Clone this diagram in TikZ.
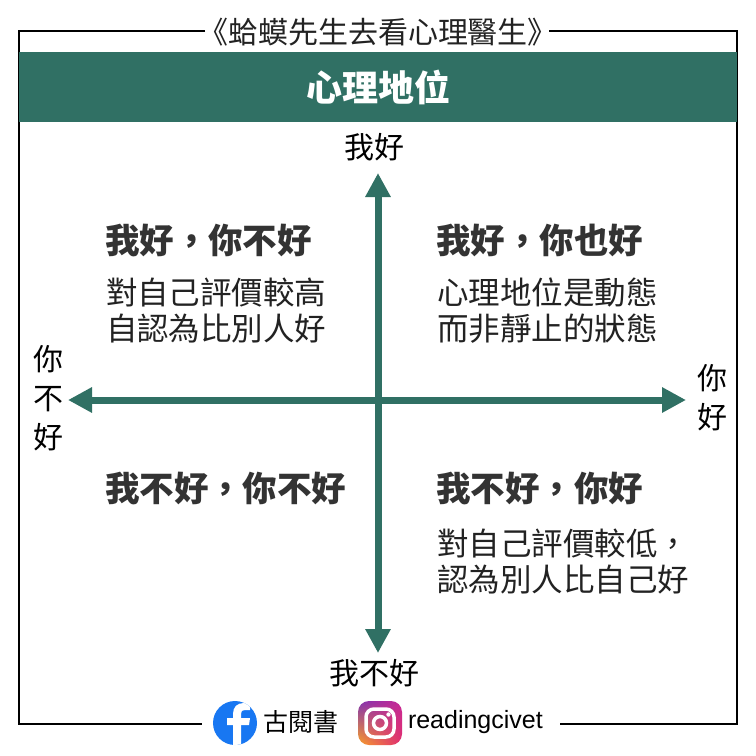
\documentclass[tikz,border=0pt]{standalone}
\usepackage{fontspec}
\setmainfont{Liberation Sans}
\newfontfamily\cjk{Noto Sans CJK TC}
\usetikzlibrary{arrows.meta,shadings}
\definecolor{band}{RGB}{48,112,100}
\definecolor{headgray}{RGB}{51,51,51}
\definecolor{bodygray}{RGB}{34,34,34}
\definecolor{fbblue}{RGB}{24,119,242}
\definecolor{igpurple}{RGB}{129,52,175}
\definecolor{igmag}{RGB}{200,40,150}
\definecolor{igorange}{RGB}{250,160,40}
\definecolor{igpink}{RGB}{225,45,110}
\begin{document}
\begin{tikzpicture}[x=1pt,y=-1pt,
  every node/.style={inner sep=0pt,outer sep=0pt},
  headtxt/.style={font=\cjk\bfseries\fontsize{34.5}{40}\selectfont,text=headgray,anchor=west},
  bodytxt/.style={font=\cjk\fontsize{31.5}{37}\selectfont,text=bodygray,anchor=west},
  axislbl/.style={font=\cjk\fontsize{30}{39}\selectfont,text=black,align=center},
  frameline/.style={line width=1.5pt,black},
  axisarrow/.style={line width=7pt,band,{Triangle[width=24pt,length=24pt]}-{Triangle[width=24pt,length=24pt]}}
]
\useasboundingbox (0,0) rectangle (756,756);
\fill[white] (0,0) rectangle (756,756);
% title and frame
\node[font=\cjk\fontsize{30}{34}\selectfont,text=bodygray] (title) at (378,32) {《蛤蟆先生去看心理醫生》};
\draw[frameline] (205,31) -- (19,31) -- (19,724) -- (202,724);
\draw[frameline] (549,31) -- (737,31) -- (737,724) -- (560,724);
% band
\fill[band] (19,52) rectangle (737,122);
\node[font=\cjk\bfseries\fontsize{36}{40}\selectfont,text=white] (bandtitle) at (378,87) {心理地位};
% axes
\coordinate (L) at (68,400);
\coordinate (R) at (686,400);
\coordinate (T) at (378,173);
\coordinate (B) at (378,653);
\draw[axisarrow] (L) -- (R);
\draw[axisarrow] (T) -- (B);
% axis labels
\node[axislbl] (top) at (374,147) {我好};
\node[axislbl] (bottom) at (374,673) {我不好};
\node[axislbl] (left) at (48,398) {你\\不\\好};
\node[axislbl] (right) at (712,398) {你\\好};
% quadrants
\node[headtxt] (q1h) at (105,240) {我好，你不好};
\node[bodytxt] (q1a) at (106,292) {對自己評價較高};
\node[bodytxt] (q1b) at (106,329) {自認為比別人好};
\node[headtxt] (q2h) at (436,240) {我好，你也好};
\node[bodytxt] (q2a) at (437,292) {心理地位是動態};
\node[bodytxt] (q2b) at (437,329) {而非靜止的狀態};
\node[headtxt] (q3h) at (105,488) {我不好，你不好};
\node[headtxt] (q4h) at (436,488) {我不好，你好};
\node[bodytxt] (q4a) at (437,543) {對自己評價較低，};
\node[bodytxt] (q4b) at (437,580) {認為別人比自己好};
% facebook
\fill[fbblue] (235,723) circle (22);
\begin{scope}
\clip (235,723) circle (22);
\fill[white] (233,746) -- (233,714) .. controls (233,707) and (237,703) .. (244,703) -- (250,703) -- (250,710) -- (245,710) .. controls (242,710) and (241,711) .. (241,714) -- (241,746) -- cycle;
\fill[white] (227,718) -- (250,718) -- (249,725) -- (227,725) -- cycle;
\end{scope}
\node[font=\cjk\fontsize{25}{30}\selectfont,text=black,anchor=west] (fbname) at (263,722) {古閱書};
% instagram
\shade[upper left=igpurple,upper right=igmag,lower left=igorange,lower right=igpink,rounded corners=11pt] (358,701) rectangle (402,745);
\draw[white,line width=3.5pt,rounded corners=8pt] (366,709) rectangle (394,737);
\draw[white,line width=3.5pt] (380,723) circle (6.5);
\fill[white] (388.5,714.5) circle (2.2);
\node[font=\fontsize{25}{30}\selectfont,text=black,anchor=west] (igname) at (408,722) {readingcivet};
\end{tikzpicture}
\end{document}
